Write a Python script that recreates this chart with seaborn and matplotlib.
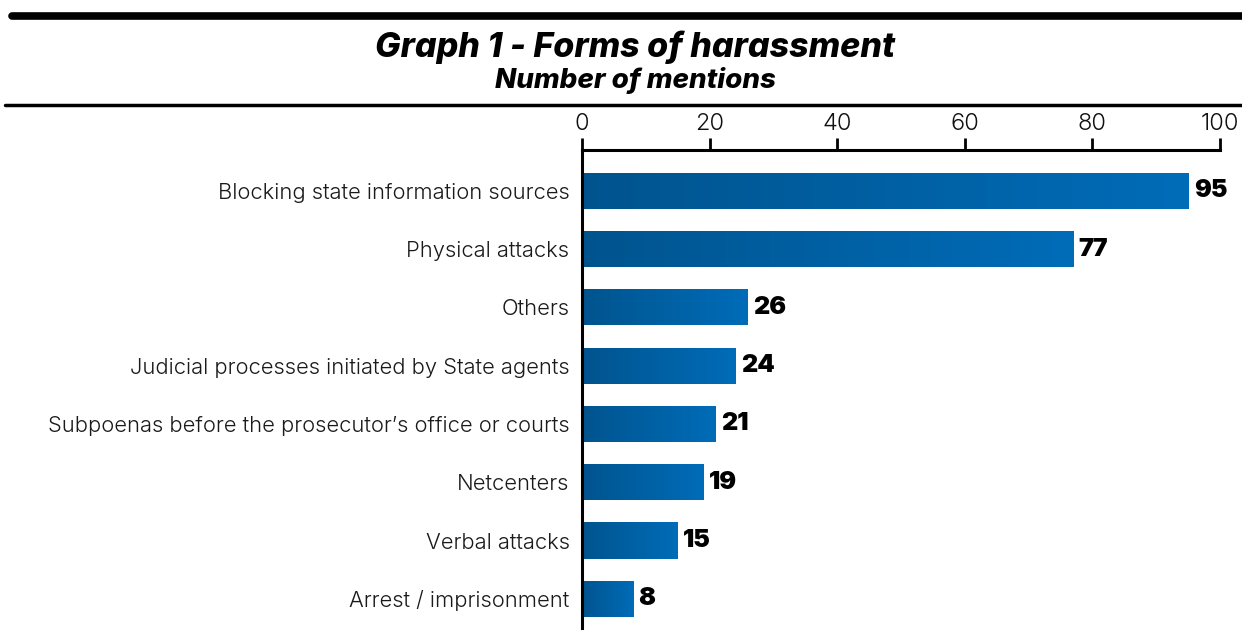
import numpy as np
import pandas as pd
import matplotlib
matplotlib.use("Agg")
import matplotlib.pyplot as plt
from matplotlib.colors import LinearSegmentedColormap
from matplotlib.lines import Line2D
import seaborn as sns

categories = [
    "Blocking state information sources",
    "Physical attacks",
    "Others",
    "Judicial processes initiated by State agents",
    "Subpoenas before the prosecutor\u2019s office or courts",
    "Netcenters",
    "Verbal attacks",
    "Arrest / imprisonment",
]
mentions = [95, 77, 26, 24, 21, 19, 15, 8]
x_ticks = [0, 20, 40, 60, 80, 100]

title_line1 = "Graph 1 - Forms of harassment"
title_line2 = "Number of mentions"

sns.set_theme(style="white")
plt.rcParams["font.family"] = ["Inter", "DejaVu Sans"]

df = pd.DataFrame({"category": categories, "mentions": mentions})

fig = plt.figure(figsize=(12.42, 6.36), dpi=100)
ax = fig.add_axes([582 / 1242, 1 - 628 / 636, (1220 - 582) / 1242, (628 - 150) / 636])

sns.barplot(data=df, y="category", x="mentions", orient="h", color="#0064a8",
            width=0.62, ax=ax)

# horizontal gradient fill for each bar
grad_cmap = LinearSegmentedColormap.from_list("bluegrad", ["#00548e", "#006cb8"])
grad = np.linspace(0, 1, 256).reshape(1, -1)
for patch in list(ax.patches):
    x0, y0 = patch.get_x(), patch.get_y()
    w, h = patch.get_width(), patch.get_height()
    im = ax.imshow(grad, cmap=grad_cmap, aspect="auto",
                   extent=[x0, x0 + w, y0 + h, y0], zorder=patch.get_zorder() + 0.1)
    im.set_clip_path(patch)
    patch.set_edgecolor("none")

ax.set_xlim(0, 100)
ax.set_ylim(7.5, -0.7)
ax.set_xlabel("")
ax.set_ylabel("")

ax.xaxis.tick_top()
ax.set_xticks(x_ticks)
ax.set_xticklabels([str(t) for t in x_ticks], fontsize=17, fontweight=300, color="#111111")
ax.tick_params(axis="x", direction="out", length=9, width=2, color="black", pad=2)
ax.tick_params(axis="y", length=0, pad=9, labelsize=15.8, labelcolor="#1a1a1a")
for lbl in ax.get_yticklabels():
    lbl.set_fontweight(300)

for side in ["right", "bottom"]:
    ax.spines[side].set_visible(False)
ax.spines["top"].set_linewidth(2.2)
ax.spines["left"].set_linewidth(2.2)
ax.spines["top"].set_color("black")
ax.spines["left"].set_color("black")

for i, v in enumerate(mentions):
    ax.annotate(str(v), xy=(v, i), xytext=(4, 0), textcoords="offset points",
                ha="left", va="center", fontsize=18, fontweight=900,
                color="black", clip_on=False)

fig.text(635 / 1242, 1 - 47 / 636, title_line1, ha="center", va="center",
         fontsize=24.5, fontweight=800, fontstyle="italic", color="black")
fig.text(635 / 1242, 1 - 80 / 636, title_line2, ha="center", va="center",
         fontsize=20, fontweight=800, fontstyle="italic", color="black")

fig.add_artist(Line2D([12 / 1242, 1], [1 - 16 / 636, 1 - 16 / 636],
                      transform=fig.transFigure, color="black", linewidth=5.5))
fig.add_artist(Line2D([5 / 1242, 1], [1 - 105 / 636, 1 - 105 / 636],
                      transform=fig.transFigure, color="black", linewidth=2.5))

fig.savefig("out.png", dpi=100)
